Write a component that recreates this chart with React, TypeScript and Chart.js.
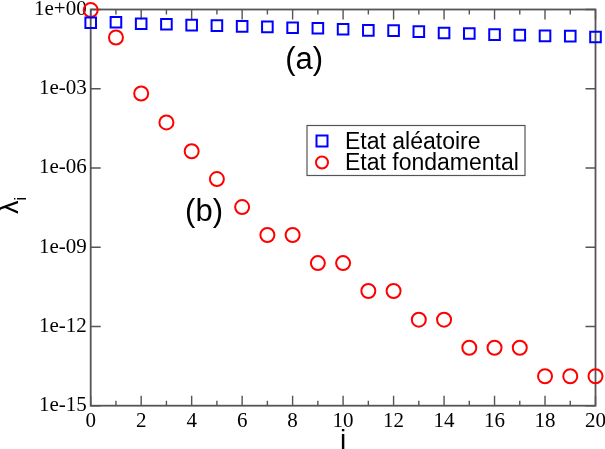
import React, { useEffect, useRef } from 'react';
import { Chart, registerables } from 'chart.js';

Chart.register(...registerables);

// ---- data ----
const indices = [0, 1, 2, 3, 4, 5, 6, 7, 8, 9, 10, 11, 12, 13, 14, 15, 16, 17, 18, 19, 20];
const randomStateValues = [
  0.316, 0.331, 0.288, 0.275, 0.257, 0.245, 0.229, 0.219, 0.204, 0.195, 0.178,
  0.162, 0.158, 0.145, 0.129, 0.123, 0.112, 0.107, 0.1, 0.098, 0.091,
];
const groundStateValues = [
  0.95, 0.087, 6.6e-4, 5.3e-5, 4.3e-6, 3.8e-7, 3.3e-8, 2.9e-9, 2.9e-9, 2.5e-10, 2.5e-10,
  2.2e-11, 2.2e-11, 1.8e-12, 1.8e-12, 1.56e-13, 1.56e-13, 1.56e-13, 1.3e-14, 1.3e-14, 1.3e-14,
];
const yTickExponents = [0, -3, -6, -9, -12, -15];
const seriesLabels = ['Etat aléatoire', 'Etat fondamental'];
const panelLabels = ['(a)', '(b)'];
const xAxisTitle = 'i';
const yAxisTitleMain = 'λ';
const yAxisTitleSub = 'i';

const BLUE = '#0000ff';
const RED = '#ff0000';
const FRAME = '#555555';
const SERIF = "'Liberation Serif', 'Times New Roman', serif";
const SANS = "'Liberation Sans', Arial, sans-serif";

const formatExp = (v: number) => {
  const e = Math.round(Math.log10(v));
  return '1e' + (e < 0 ? '-' : '+') + String(Math.abs(e)).padStart(2, '0');
};

const framePlugin = {
  id: 'framePlugin',
  beforeDatasetsDraw(chart: any) {
    const { ctx, chartArea, scales } = chart;
    const { left, right, top, bottom } = chartArea;
    const x = scales.x;
    const y = scales.y;
    ctx.save();
    ctx.strokeStyle = FRAME;
    ctx.lineWidth = 1.8;
    ctx.strokeRect(left, top, right - left, bottom - top);
    ctx.lineWidth = 1.4;
    ctx.beginPath();
    for (const v of indices) {
      const px = x.getPixelForValue(v);
      const len = v % 2 === 0 ? 10 : 5;
      ctx.moveTo(px, bottom);
      ctx.lineTo(px, bottom - len);
      ctx.moveTo(px, top);
      ctx.lineTo(px, top + len);
    }
    for (const e of yTickExponents) {
      const py = y.getPixelForValue(Math.pow(10, e));
      ctx.moveTo(left, py);
      ctx.lineTo(left + 10, py);
      ctx.moveTo(right, py);
      ctx.lineTo(right - 10, py);
    }
    ctx.stroke();
    ctx.restore();
  },
};

const annotationPlugin = {
  id: 'annotationPlugin',
  afterDraw(chart: any) {
    const { ctx, scales } = chart;
    const x = scales.x;
    const y = scales.y;
    ctx.save();
    // panel labels
    ctx.fillStyle = '#000';
    ctx.font = `31px ${SANS}`;
    ctx.textAlign = 'center';
    ctx.textBaseline = 'middle';
    ctx.fillText(panelLabels[0], x.getPixelForValue(8.46), y.getPixelForValue(Math.pow(10, -1.93)));
    ctx.fillText(panelLabels[1], x.getPixelForValue(4.49), y.getPixelForValue(Math.pow(10, -7.67)));

    // y axis title (rotated, with subscript)
    ctx.save();
    ctx.translate(18, 214);
    ctx.rotate(-Math.PI / 2);
    ctx.textAlign = 'left';
    ctx.textBaseline = 'alphabetic';
    ctx.font = `27px ${SANS}`;
    ctx.fillText(yAxisTitleMain, 0, 0);
    const w = ctx.measureText(yAxisTitleMain).width;
    ctx.font = `16px ${SANS}`;
    ctx.fillText(yAxisTitleSub, w, 8);
    ctx.restore();

    // legend
    const bx = 307, by = 125.5, bw = 218, bh = 50;
    ctx.fillStyle = '#fff';
    ctx.fillRect(bx, by, bw, bh);
    ctx.strokeStyle = FRAME;
    ctx.lineWidth = 1.2;
    ctx.strokeRect(bx, by, bw, bh);
    const ds = chart.data.datasets;
    const rows = [141, 162.5];
    ds.forEach((d: any, i: number) => {
      const cy = rows[i];
      ctx.strokeStyle = d.borderColor;
      ctx.lineWidth = 2;
      if (d.pointStyle === 'rect') {
        ctx.strokeRect(322 - 5.5, cy - 5.5, 11, 11);
      } else {
        ctx.beginPath();
        ctx.arc(322, cy, 6, 0, Math.PI * 2);
        ctx.stroke();
      }
      ctx.fillStyle = '#000';
      ctx.font = `23px ${SANS}`;
      ctx.textAlign = 'left';
      ctx.textBaseline = 'alphabetic';
      ctx.fillText(d.label, 345, cy + 7.5);
    });
    ctx.restore();
  },
};

export default function App() {
  const canvasRef = useRef<HTMLCanvasElement | null>(null);

  useEffect(() => {
    document.body.style.margin = '0';
    const canvas = canvasRef.current;
    if (!canvas) return;
    const chart = new Chart(canvas, {
      type: 'scatter',
      data: {
        datasets: [
          {
            label: seriesLabels[0],
            data: indices.map((i, k) => ({ x: i, y: randomStateValues[k] })),
            pointStyle: 'rect',
            pointRadius: 7.5,
            pointBorderWidth: 2,
            borderColor: BLUE,
            pointBorderColor: BLUE,
            backgroundColor: 'transparent',
            pointBackgroundColor: 'transparent',
            showLine: false,
            clip: false,
          } as any,
          {
            label: seriesLabels[1],
            data: indices.map((i, k) => ({ x: i, y: groundStateValues[k] })),
            pointStyle: 'circle',
            pointRadius: 7,
            pointBorderWidth: 2,
            borderColor: RED,
            pointBorderColor: RED,
            backgroundColor: 'transparent',
            pointBackgroundColor: 'transparent',
            showLine: false,
            clip: false,
          } as any,
        ],
      },
      options: {
        responsive: false,
        animation: false,
        events: [],
        layout: { padding: { top: 5, right: 9.3, left: 0, bottom: 0 } },
        plugins: {
          legend: { display: false },
          tooltip: { enabled: false },
        },
        scales: {
          x: {
            type: 'linear',
            min: 0,
            max: 20,
            grid: { display: false, drawTicks: false },
            border: { display: false },
            ticks: {
              stepSize: 2,
              padding: 3,
              color: '#000',
              font: { family: SERIF, size: 21 },
              maxRotation: 0,
            },
            title: {
              display: true,
              text: xAxisTitle,
              color: '#000',
              font: { family: SANS, size: 28, lineHeight: 1 },
              padding: { top: 0, bottom: -6 },
            },
            afterFit: (s: any) => {
              s.height = 43.3;
              s.paddingLeft = 0;
              s.paddingRight = 0;
            },
          },
          y: {
            type: 'logarithmic',
            min: 1e-15,
            max: 1,
            grid: { display: false, drawTicks: false },
            border: { display: false },
            afterBuildTicks: (s: any) => {
              s.ticks = yTickExponents.map((e) => ({ value: Math.pow(10, e) }));
            },
            ticks: {
              padding: 4,
              color: '#000',
              font: { family: SERIF, size: 21 },
              callback: (v: any) => formatExp(Number(v)),
            },
            afterFit: (s: any) => {
              s.width = 90.7;
              s.paddingTop = 0;
              s.paddingBottom = 0;
            },
          },
        },
      } as any,
      plugins: [framePlugin, annotationPlugin],
    });
    return () => chart.destroy();
  }, []);

  return (
    <div style={{ position: 'absolute', left: 0, top: 0, width: 605, height: 449, background: '#fff' }}>
      <canvas ref={canvasRef} width={605} height={449} />
    </div>
  );
}
